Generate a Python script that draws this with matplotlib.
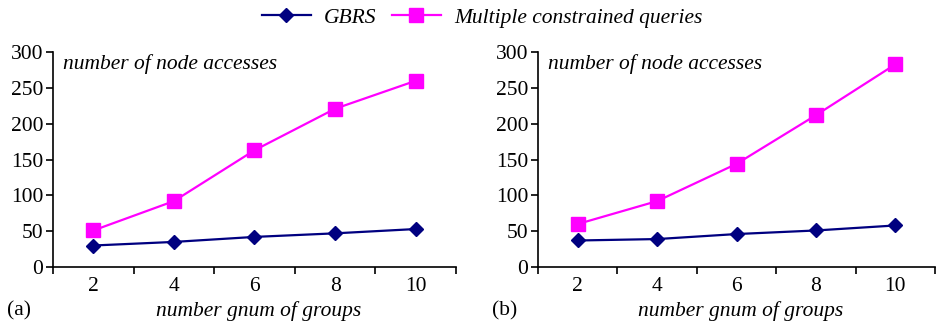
import matplotlib.pyplot as plt
import numpy as np

# values
groups = ["2", "4", "6", "8", "10"]
gbrs_a = [30, 35, 42, 47, 53]
multi_a = [51, 92, 163, 221, 260]
gbrs_b = [37, 39, 46, 51, 58]
multi_b = [60, 92, 144, 212, 283]
panel_tags = ["(a)", "(b)"]

plt.rcParams["font.family"] = ["Liberation Serif", "DejaVu Serif"]
plt.rcParams["font.size"] = 15.5

fig = plt.figure(figsize=(9.36, 3.28), dpi=100)
ax_a = fig.add_axes([0.0566, 0.186, 0.4306, 0.655])
ax_b = fig.add_axes([0.5748, 0.186, 0.4242, 0.655])

x = np.arange(len(groups))
for ax, g, m, tag in [(ax_a, gbrs_a, multi_a, panel_tags[0]),
                      (ax_b, gbrs_b, multi_b, panel_tags[1])]:
    ax.plot(x, g, color="#000080", lw=1.6, marker="D", ms=7.5, label="GBRS")
    ax.plot(x, m, color="#FF00FF", lw=1.6, marker="s", ms=10,
            label="Multiple constrained queries")
    ax.set_xlim(-0.5, len(groups) - 0.5)
    ax.set_ylim(0, 300)
    ax.set_yticks(range(0, 301, 50))
    ax.set_xticks(x)
    ax.set_xticklabels(groups)
    ax.set_xticks(np.arange(-0.5, len(groups), 1), minor=True)
    ax.tick_params(axis="x", which="major", length=0, pad=7)
    ax.tick_params(axis="x", which="minor", length=5, width=1.2, direction="out")
    ax.tick_params(axis="y", length=5, width=1.2, direction="out", pad=2)
    for s in ["top", "right"]:
        ax.spines[s].set_visible(False)
    for s in ["left", "bottom"]:
        ax.spines[s].set_linewidth(1.2)
    ax.text(0.025, 0.99, "number of node accesses", transform=ax.transAxes,
            style="italic", ha="left", va="top")
    ax.set_xlabel("number gnum of groups", style="italic")
    ax.xaxis.set_label_coords(0.51, -0.205)
    ax.xaxis.label.set_va("center")
    ax.text(-0.115, -0.205, tag, transform=ax.transAxes, ha="left", va="center")

handles, labels = ax_a.get_legend_handles_labels()
fig.legend(handles, labels, loc="upper center", bbox_to_anchor=(0.515, 1.035),
           ncol=2, frameon=False, handlelength=2.3, columnspacing=0.7,
           handletextpad=0.6, prop={"style": "italic", "size": 15.5})

fig.savefig("out.png", dpi=100)
